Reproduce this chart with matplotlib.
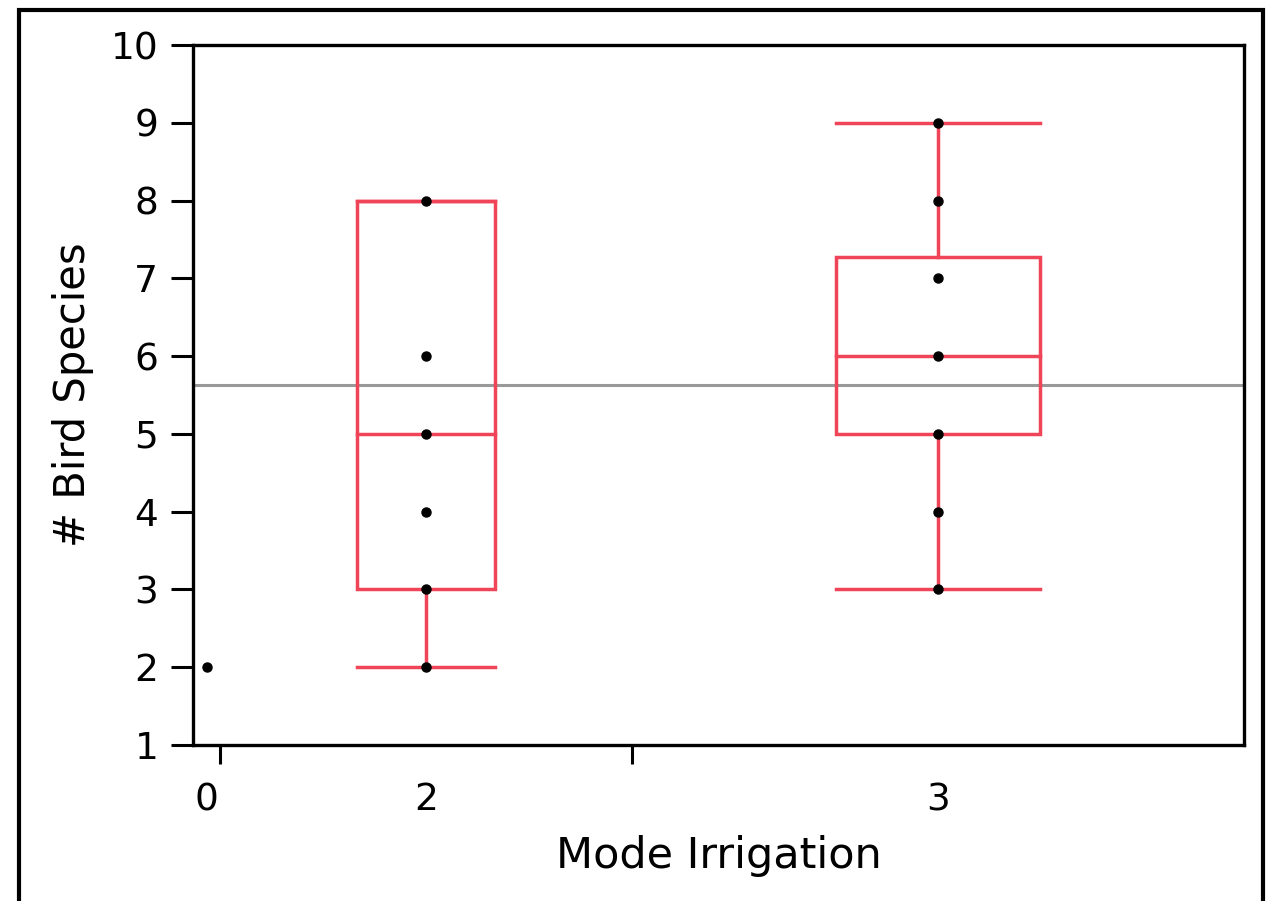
import matplotlib
matplotlib.use("Agg")
import matplotlib.pyplot as plt
from matplotlib.patches import Rectangle

# data
categories = ["0", "2", "3"]
group_widths = [1.0, 15.25, 22.65]      # JMP scales group width by count
points = [[2], [2, 3, 4, 5, 6, 8], [3, 4, 5, 6, 7, 8, 9]]
# (whisker low, q1, median, q3, whisker high) ; None for single-point group
box_stats = [None, (2, 3, 5, 8, 8), (3, 5, 6, 7.27, 9)]
grand_mean = 5.63

box_color = "#f04459"
lw_box = 2.5

fig = plt.figure(figsize=(12.81, 9.01), dpi=100)
ax = fig.add_axes([193 / 1281, 1 - 745 / 901, (1244 - 193) / 1281, (745 - 45) / 901])

# group boundaries and centres
edges = [0.0]
for w in group_widths:
    edges.append(edges[-1] + w)
centers = [(edges[i] + edges[i + 1]) / 2 for i in range(len(group_widths))]

ax.axhline(grand_mean, color="#999999", lw=2.2, zorder=1)

for i, stats in enumerate(box_stats):
    c = centers[i]
    if stats is not None:
        lo, q1, med, q3, hi = stats
        hw = group_widths[i] / 6
        ax.add_patch(Rectangle((c - hw, q1), 2 * hw, q3 - q1, fill=False,
                               edgecolor=box_color, lw=lw_box, zorder=2))
        ax.plot([c - hw, c + hw], [med, med], color=box_color, lw=lw_box, zorder=2)
        ax.plot([c, c], [lo, q1], color=box_color, lw=lw_box, zorder=2)
        ax.plot([c, c], [q3, hi], color=box_color, lw=lw_box, zorder=2)
        ax.plot([c - hw, c + hw], [lo, lo], color=box_color, lw=lw_box, zorder=2)
        ax.plot([c - hw, c + hw], [hi, hi], color=box_color, lw=lw_box, zorder=2)
    ax.plot([c] * len(points[i]), points[i], "o", color="black", ms=6.5, zorder=3)

ax.set_xlim(edges[0], edges[-1])
ax.set_ylim(1, 10)
ax.set_yticks(range(1, 11))

# boundaries as major ticks, labels at group centres
ax.set_xticks(edges[1:-1])
ax.set_xticklabels([])
ax.set_xticks(centers, minor=True)
ax.set_xticklabels(categories, minor=True)
ax.tick_params(axis="x", which="major", length=14, width=2.2, direction="out")
ax.tick_params(axis="x", which="minor", length=0, pad=27, labelsize=27)
ax.tick_params(axis="y", length=16, width=2.2, direction="out", pad=9, labelsize=27)

for sp in ax.spines.values():
    sp.set_linewidth(2.4)

ax.set_xlabel("Mode Irrigation", fontsize=31, labelpad=12)
ax.set_ylabel("# Bird Species", fontsize=30, labelpad=12)

# outer frame around the whole plot
fig.patches.append(Rectangle((19 / 1281, -0.05), (1263 - 19) / 1281, 1.05 - 10 / 901,
                             transform=fig.transFigure, fill=False,
                             edgecolor="black", lw=3, zorder=0))

fig.savefig("out.png", dpi=100)
